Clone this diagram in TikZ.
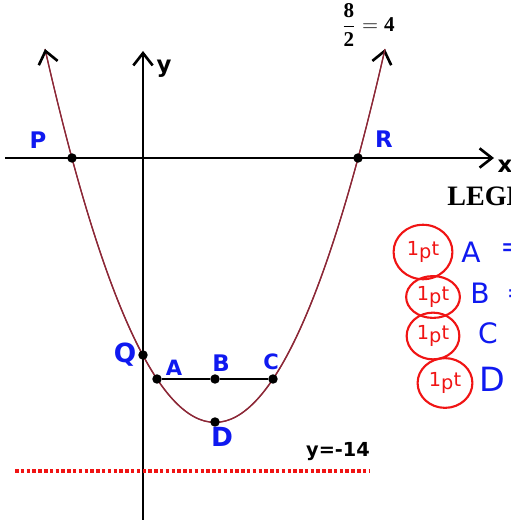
\documentclass[tikz,border=0pt]{standalone}
\usepackage{fontspec}
\setmainfont{Liberation Serif}
\newfontfamily\handfont{DejaVu Sans}
\usetikzlibrary{arrows.meta, positioning, shapes.geometric}
\definecolor{CurveRed}{RGB}{140, 40, 55}
\definecolor{InkBlue}{RGB}{15, 25, 240}
\definecolor{PenRed}{RGB}{240, 20, 20}

\begin{document}
\begin{tikzpicture}[
    x=0.02cm, y=0.02cm,
    every node/.style={inner sep=0pt},
    pnt/.style={circle, fill=black, minimum size=5.4pt},
    lbl/.style={text=InkBlue, font=\handfont\bfseries\fontsize{13}{13}\selectfont},
    leglbl/.style={text=InkBlue, font=\handfont\fontsize{16}{16}\selectfont},
    ink/.style={text=black, font=\handfont\bfseries\fontsize{13}{13}\selectfont},
    legcirc/.style={draw=PenRed, ellipse, line width=1.2pt, text=PenRed,
                    font=\handfont\fontsize{11}{11}\selectfont},
    barb/.style={-{Straight Barb[color=black, length=7pt, width=11pt, line width=1.5pt]}}
]
\useasboundingbox (0,0) rectangle (510,-520);

% axes
\coordinate (xl) at (5,-158);
\coordinate (xr) at (494,-158);
\coordinate (yb) at (143,-522);
\coordinate (yt) at (143,-51);
\draw[barb, line width=0.85pt] (xl) -- (xr);
\draw[barb, line width=0.85pt] (yb) -- (yt);
\node[ink] (xlab) at (505,-166) {x};
\node[ink] (ylab) at (164,-69) {y};

% parabola (quadratic as cubic)
\coordinate (cl) at (45,-49);
\coordinate (cr) at (385,-49);
\coordinate (k1) at (158.3,-546.3);
\coordinate (k2) at (271.7,-546.3);
\draw[barb, CurveRed, line width=0.7pt] (cl) .. controls (k1) and (k2) .. (cr);
\draw[barb, CurveRed, line width=0.7pt] (cr) .. controls (k2) and (k1) .. (cl);

% points on the curve
\node[pnt] (p) at (72,-158) {};
\node[pnt] (r) at (358,-158) {};
\node[pnt] (q) at (143,-355) {};
\node[pnt] (a) at (157,-379) {};
\node[pnt] (b) at (215,-379) {};
\node[pnt] (c) at (273,-379) {};
\node[pnt] (d) at (215,-422) {};
\draw[line width=0.85pt] (a) -- (b) -- (c);

\node[lbl] (plab) at (38,-140) {P};
\node[lbl] (rlab) at (384,-139) {R};
\node[lbl, font=\handfont\bfseries\fontsize{15}{15}\selectfont] (qlab) at (125,-355) {Q};
\node[lbl, font=\handfont\bfseries\fontsize{12}{12}\selectfont] (alab) at (174,-368) {A};
\node[lbl] (blab) at (221,-363) {B};
\node[lbl, font=\handfont\bfseries\fontsize{12}{12}\selectfont] (clab) at (271,-362) {C};
\node[lbl, font=\handfont\bfseries\fontsize{15}{15}\selectfont] (dlab) at (222,-437) {D};

% vertex x and the line y=-14
\node[ink, font=\fontsize{12}{12}\selectfont] (half) at (368,-25) {$\displaystyle\mathbf{\frac{8}{2}=4}$};
\node[ink, font=\handfont\bfseries\fontsize{11}{11}\selectfont] (ylevel) at (338,-452) {y=-14};
\coordinate (dl) at (15,-471);
\coordinate (dr) at (370,-471);
\draw[PenRed, line width=2pt, dash pattern=on 2pt off 1.3pt] (dl) -- (dr);

% legend
\node[anchor=west, font=\bfseries\fontsize{16}{16}\selectfont] (leg) at (447,-196) {LEGEND};
\node[legcirc, minimum width=33.5pt, minimum height=31pt] (c1) at (423,-252) {1\raisebox{-2pt}{p}t};
\node[legcirc, minimum width=30.6pt, minimum height=23.8pt] (c2) at (433,-297) {1\raisebox{-2pt}{p}t};
\node[legcirc, minimum width=30pt, minimum height=26.6pt] (c3) at (433,-336) {1\raisebox{-2pt}{p}t};
\node[legcirc, minimum width=31.2pt, minimum height=28.3pt] (c4) at (445,-383) {1\raisebox{-2pt}{p}t};
\node[leglbl] (la) at (471,-252) {A};
\node[leglbl, anchor=west] (la2) at (500,-250) {=};
\node[leglbl] (lb) at (480,-293) {B};
\node[leglbl, anchor=west] (lb2) at (506,-296) {=};
\node[leglbl] (lc) at (488,-333) {C};
\node[leglbl, font=\handfont\fontsize{19}{19}\selectfont] (ld) at (492,-379) {D};
\end{tikzpicture}
\end{document}
